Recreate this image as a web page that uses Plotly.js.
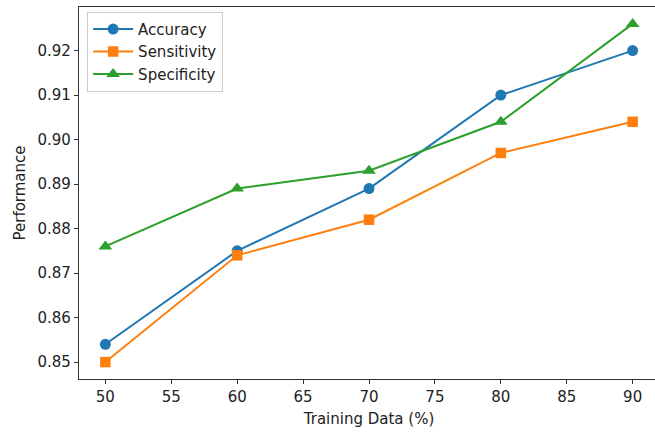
<!DOCTYPE html>
<html>
<head>
<meta charset="utf-8">
<script src="https://cdn.plot.ly/plotly-3.0.1.min.js"></script>
<style>
html,body{margin:0;padding:0;overflow:hidden;background:#fff;}
#chart{width:660px;height:432px;}
</style>
</head>
<body>
<div id="chart"></div>
<script>
const trainingData = [50, 60, 70, 80, 90];
const accuracy = [0.854, 0.875, 0.889, 0.910, 0.920];
const sensitivity = [0.850, 0.874, 0.882, 0.897, 0.904];
const specificity = [0.876, 0.889, 0.893, 0.904, 0.926];
const xTicks = [50, 55, 60, 65, 70, 75, 80, 85, 90];
const yTicks = [0.85, 0.86, 0.87, 0.88, 0.89, 0.90, 0.91, 0.92];

const txt = {family: 'DejaVu Sans', size: 15, color: '#222'};

const traces = [
  {x: trainingData, y: accuracy, name: 'Accuracy', mode: 'lines+markers',
   line: {color: '#1f77b4', width: 2}, marker: {symbol: 'circle', size: 11, color: '#1f77b4'}},
  {x: trainingData, y: sensitivity, name: 'Sensitivity', mode: 'lines+markers',
   line: {color: '#ff7f0e', width: 2}, marker: {symbol: 'square', size: 10.5, color: '#ff7f0e'}},
  {x: trainingData, y: specificity, name: 'Specificity', mode: 'lines+markers',
   line: {color: '#2ca02c', width: 2}, marker: {symbol: 'triangle-up', size: 12, color: '#2ca02c'}}
];

const layout = {
  width: 660, height: 432,
  margin: {l: 79, r: 1, t: 7, b: 53},
  paper_bgcolor: '#fff', plot_bgcolor: '#fff',
  font: txt,
  showlegend: true,
  legend: {x: 0.014, y: 0.987, xanchor: 'left', yanchor: 'top',
    bgcolor: 'rgba(255,255,255,0.85)', bordercolor: '#cccccc', borderwidth: 1,
    font: txt, tracegroupgap: 0, itemwidth: 40},
  xaxis: {range: [48, 92], tickvals: xTicks, ticktext: xTicks.map(String),
    showgrid: false, zeroline: false, showline: true, linecolor: '#333', linewidth: 1.2,
    mirror: true, ticks: 'outside', ticklen: 4, tickcolor: '#333', tickfont: txt,
    title: {text: 'Training Data (%)', font: txt, standoff: 8}},
  yaxis: {range: [0.84620, 0.92980], tickvals: yTicks, ticktext: yTicks.map(v => v.toFixed(2)),
    showgrid: false, zeroline: false, showline: true, linecolor: '#333', linewidth: 1.2,
    mirror: true, ticks: 'outside', ticklen: 4, tickcolor: '#333', tickfont: txt,
    title: {text: 'Performance', font: txt, standoff: 8}}
};

Plotly.newPlot('chart', traces, layout, {displayModeBar: false, staticPlot: true});
</script>
</body>
</html>
